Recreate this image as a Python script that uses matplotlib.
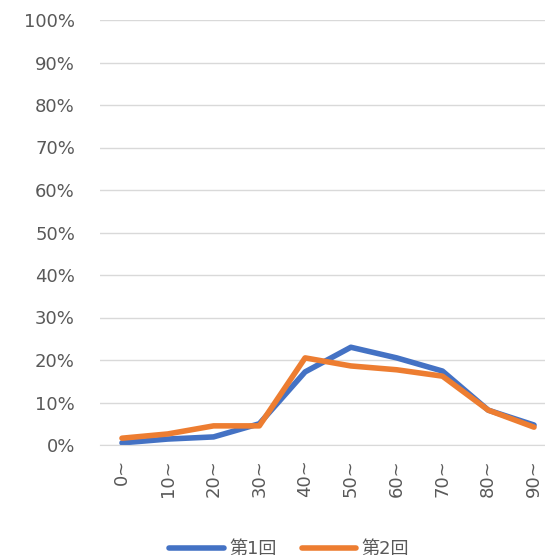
import matplotlib
matplotlib.use("Agg")
from matplotlib import pyplot as plt, ticker as mticker

plt.rcParams['font.family'] = ['DejaVu Sans', 'Noto Sans CJK JP']

categories = ['0~', '10~', '20~', '30~', '40~', '50~', '60~', '70~', '80~', '90~']
series1 = [0.5, 1.4, 1.9, 5.0, 17.2, 23.0, 20.5, 17.4, 8.2, 4.7]
series2 = [1.6, 2.6, 4.5, 4.5, 20.5, 18.6, 17.7, 16.2, 8.2, 4.2]
labels = ['第1回', '第2回']

fig = plt.figure(figsize=(5.45, 5.57), dpi=100)
ax = fig.add_axes([100/545, 1-445/557, 445/545, 425/557])
x = range(len(categories))
ax.plot(x, series1, color='#4472C4', lw=4, label=labels[0], solid_capstyle='round')
ax.plot(x, series2, color='#ED7D31', lw=4, label=labels[1], solid_capstyle='round')
ax.set_ylim(0, 100)
ax.set_xlim(-0.48, 9.24)
ax.set_yticks(range(0, 101, 10))
ax.yaxis.set_major_formatter(mticker.FuncFormatter(lambda v, p: f'{int(v)}%'))
ax.set_xticks(list(x))
ax.set_xticklabels(categories, rotation=90)
ax.tick_params(length=0, labelsize=13, colors='#595959')
ax.tick_params(axis='y', pad=18)
ax.tick_params(axis='x', pad=10)
ax.grid(axis='y', color='#d9d9d9', lw=1)
ax.set_axisbelow(True)
for s in ['top', 'right', 'left']:
    ax.spines[s].set_visible(False)
ax.spines['bottom'].set_color('#d9d9d9')
ax.legend(loc='center', bbox_to_anchor=(0.425, -0.245), ncol=2, frameon=False,
          fontsize=13, labelcolor='#595959', handlelength=3.0, handletextpad=0.3,
          columnspacing=1.4)
fig.savefig('out.png', dpi=100)
